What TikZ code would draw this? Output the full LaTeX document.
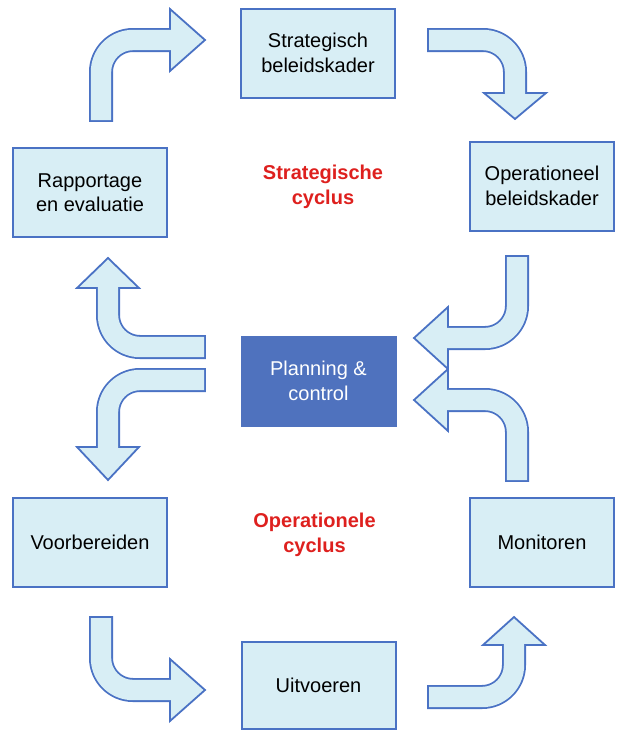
\documentclass[tikz,border=0pt]{standalone}
\usepackage{fontspec}
\setmainfont{Liberation Sans}
\usetikzlibrary{calc}
\definecolor{pale}{RGB}{216,238,245}
\definecolor{edge}{RGB}{74,114,196}
\definecolor{pcblue}{RGB}{79,114,190}
\definecolor{cycred}{RGB}{222,32,30}
\tikzset{
  stage/.style={draw=edge, fill=pale, line width=2pt, align=center,
    minimum width=154pt, minimum height=89pt, inner sep=0pt,
    font=\fontsize{20}{24.5}\selectfont},
  cyclabel/.style={text=cycred, align=center, font=\bfseries\fontsize{20}{24.5}\selectfont}
}
\begin{document}
\begin{tikzpicture}[x=1pt,y=-1pt]
\useasboundingbox (0,0) rectangle (616,731);
% stages
\node[stage] (strat) at (318,53) {Strategisch\\beleidskader};
\node[stage] (rapp) at (90,192.5) {Rapportage\\en evaluatie};
\node[stage, minimum width=144pt] (oper) at (542,186) {Operationeel\\beleidskader};
\node[stage, fill=pcblue, draw=pcblue, text=white] (plan) at (318.5,381) {Planning \&\\control};
\node[stage] (voor) at (90,542.5) {Voorbereiden};
\node[stage, minimum width=144pt] (moni) at (542,542.5) {Monitoren};
\node[stage, minimum height=87pt] (uitv) at (318.5,685.5) {Uitvoeren};
\node[cyclabel] (scyc) at (323,187) {Strategische\\cyclus};
\node[cyclabel] (ocyc) at (314.5,535) {Operationele\\cyclus};
% bent block arrows: start / corner / head base / tip
\foreach \sx/\sy/\cx/\cy/\bx/\by/\tx/\ty in
  {101/120/101/40/170/40/205/40,
   429/40/515/40/515/93/515/119,
   517/257/517/338/448/338/414/338,
   517/480/517/400/448/400/414/400,
   204/347/108/347/108/288/108/258,
   204/380/108/380/108/447/108/480,
   101/618/101/690/170/690/205/690,
   429/697/514/697/514/645/514/617}
{
\draw[line width=24pt, edge, shorten <=-1.8pt] (\sx,\sy) [rounded corners=32pt] -- (\cx,\cy) -- (\bx,\by);
\filldraw[fill=pale, draw=edge, line width=1.8pt, line join=miter]
  ($(\bx,\by)!31pt!90:(\tx,\ty)$) -- (\tx,\ty) -- ($(\bx,\by)!31pt!-90:(\tx,\ty)$) -- cycle;
\draw[line width=20.4pt, pale, shorten >=-3pt] (\sx,\sy) [rounded corners=32pt] -- (\cx,\cy) -- (\bx,\by);
}
\end{tikzpicture}
\end{document}
